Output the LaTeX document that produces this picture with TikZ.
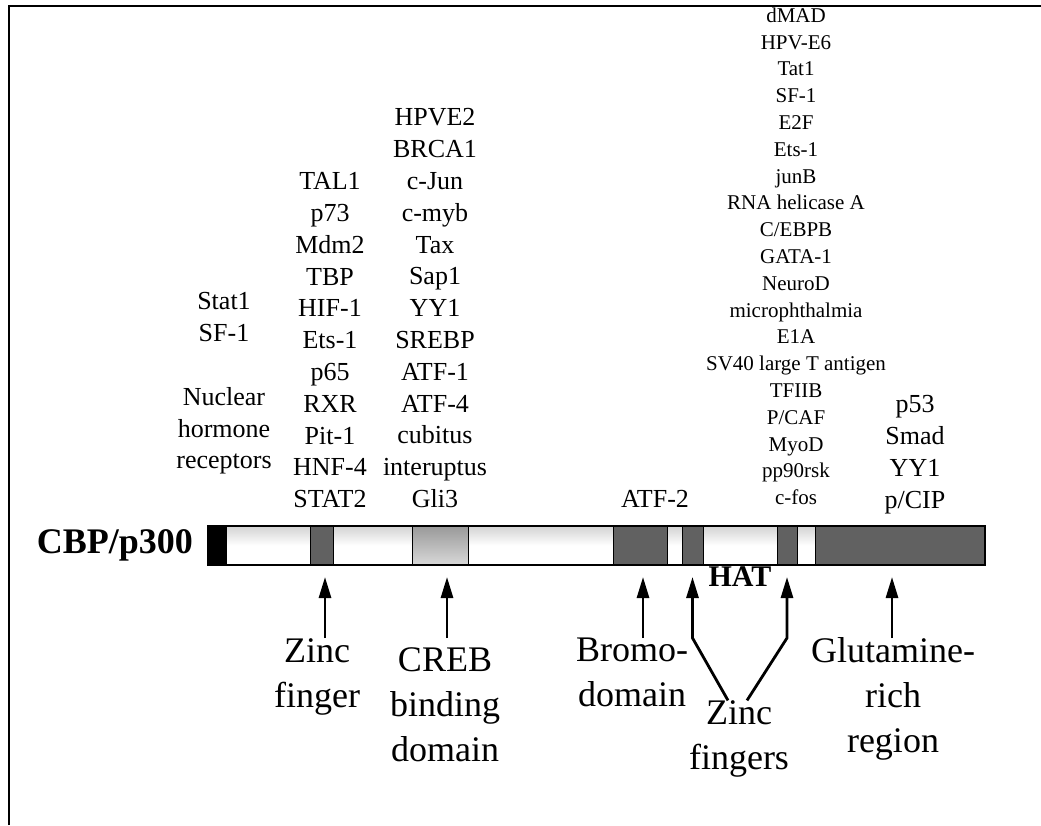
\documentclass[tikz,border=0pt]{standalone}
\usepackage{fontspec}
\setmainfont{Liberation Serif}
\usetikzlibrary{arrows.meta, positioning}

\begin{document}
\begin{tikzpicture}[
    x=1pt, y=-1pt,
    seg/.style={rectangle, draw=black, line width=0.8pt, minimum height=39pt,
                inner sep=0pt, outer sep=0pt},
    whiteseg/.style={seg, top color=gray!35, bottom color=white, middle color=white},
    darkseg/.style={seg, fill=black!62},
    cbdseg/.style={seg, top color=black!40, bottom color=black!15},
    blackseg/.style={seg, fill=black},
    list/.style={font=\fontsize{26}{31.8}\selectfont, align=center, inner sep=0pt, anchor=north},
    smalllist/.style={list, font=\fontsize{21}{26.8}\selectfont},
    lbl/.style={font=\fontsize{36}{45}\selectfont, align=center, inner sep=0pt, anchor=north},
    arr/.style={-{Triangle[length=21pt,width=12pt]}, line width=2.8pt, shorten >=12pt}
  ]
    \useasboundingbox (0,0) rectangle (1041,825);
    \draw[line width=2.5pt] (9,825) -- (9,6) -- (1041,6);

    % protein bar
    \node[blackseg, minimum width=18pt, anchor=north west] (nterm) at (208,526) {};
    \node[whiteseg, minimum width=84pt, right=0pt of nterm] (w1) {};
    \node[darkseg,  minimum width=23pt, right=0pt of w1] (zf) {};
    \node[whiteseg, minimum width=79pt, right=0pt of zf] (w2) {};
    \node[cbdseg,   minimum width=56pt, right=0pt of w2] (cbd) {};
    \node[whiteseg, minimum width=145pt, right=0pt of cbd] (w3) {};
    \node[darkseg,  minimum width=54pt, right=0pt of w3] (bromo) {};
    \node[whiteseg, minimum width=15pt, right=0pt of bromo] (w4) {};
    \node[darkseg,  minimum width=21pt, right=0pt of w4] (zn1) {};
    \node[whiteseg, minimum width=74pt, right=0pt of zn1] (hat) {};
    \node[darkseg,  minimum width=20pt, right=0pt of hat] (zn2) {};
    \node[whiteseg, minimum width=18pt, right=0pt of zn2] (w5) {};
    \node[darkseg,  minimum width=170pt, right=0pt of w5] (glut) {};
    \draw[line width=2.4pt] (nterm.north west) rectangle (glut.south east);

    \node[font=\fontsize{36}{40}\selectfont\bfseries, inner sep=0pt, left=15pt of nterm] (cbp) {CBP/p300};
    \node[font=\fontsize{30}{34}\selectfont\bfseries, inner sep=0pt, below=1pt of hat] (hatlbl) {HAT};

    % interacting proteins
    \node[list] (nhr) at (224,292.4) {Stat1\\SF-1\\[31.8pt]Nuclear\\hormone\\receptors};
    \node[list] (zfpart) at (330,172.4) {TAL1\\p73\\Mdm2\\TBP\\HIF-1\\Ets-1\\p65\\RXR\\Pit-1\\HNF-4\\STAT2};
    \node[list] (cbdpart) at (435,108.4) {HPVE2\\BRCA1\\c-Jun\\c-myb\\Tax\\Sap1\\YY1\\SREBP\\ATF-1\\ATF-4\\cubitus\\interuptus\\Gli3};
    \node[list] (atf) at (655,490.4) {ATF-2};
    \node[smalllist] (hatpart) at (796,7.5) {dMAD\\HPV-E6\\Tat1\\SF-1\\E2F\\Ets-1\\junB\\RNA helicase A\\C/EBPB\\GATA-1\\NeuroD\\microphthalmia\\E1A\\SV40 large T antigen\\TFIIB\\P/CAF\\MyoD\\pp90rsk\\c-fos};
    \node[list] (glutpart) at (915,395.4) {p53\\Smad\\YY1\\p/CIP};

    % domain labels
    \node[lbl] (zflab) at (317,638.4) {Zinc\\finger};
    \node[lbl] (cbdlab) at (445,647.7) {CREB\\binding\\domain};
    \node[lbl] (bromolab) at (632,638.2) {Bromo-\\domain};
    \node[lbl] (zfslab) at (739,700.4) {Zinc\\fingers};
    \node[lbl] (glutlab) at (893,637.4) {Glutamine-\\rich\\region};

    \coordinate (tail) at (0,638);
    \coordinate (zfarr) at (325,638);
    \coordinate (cbdarr) at (447,638);
    \coordinate (bromoarr) at (643,638);
    \coordinate (glutarr) at (892,638);
    \draw[arr] (zfarr) -- (zfarr |- zf.south);
    \draw[arr] (cbdarr) -- (cbdarr |- cbd.south);
    \draw[arr] (bromoarr) -- (bromoarr |- bromo.south);
    \draw[arr] (glutarr) -- (glutarr |- glut.south);
    \draw[arr] ([xshift=-11pt]zfslab.north) -- (zn1.south |- tail) -- (zn1.south);
    \draw[arr] ([xshift=8pt]zfslab.north) -- (zn2.south |- tail) -- (zn2.south);
  \end{tikzpicture}
\end{document}
